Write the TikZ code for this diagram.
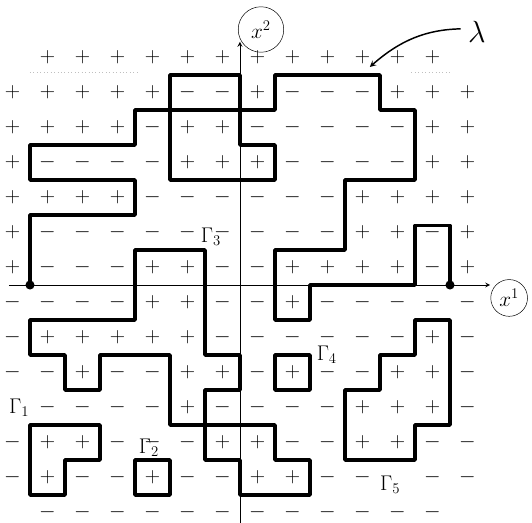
\documentclass[tikz,border=0pt]{standalone}
\usepackage{amsmath,amssymb}
\usepackage{tikz}

\begin{document}
\begin{tikzpicture}[x=1cm,y=1cm,>=stealth,
  spin/.style={font=\LARGE,inner sep=0pt},
  contour/.style={line width=3pt,line cap=round,line join=round},
  axis/.style={line width=0.8pt},
  lab/.style={font=\LARGE,inner sep=0pt},
  axlab/.style={draw,circle,font=\LARGE,inner sep=0pt}]
\useasboundingbox (-6.857,-6.8) rectangle (8.343,8.143);
% spins, row by row from the top
\foreach \row [count=\j] in {
  {o,+,+,+,+,+,+,+,+,+,+,+,+,o},
  {+,+,+,+,+,-,-,+,-,-,-,+,+,+},
  {+,+,+,+,-,+,+,-,-,-,-,-,+,+},
  {+,-,-,-,-,+,+,+,-,-,-,-,+,+},
  {+,+,+,+,-,-,-,-,-,-,+,+,+,+},
  {+,-,-,-,-,-,-,-,-,-,+,+,-,+},
  {+,-,-,-,+,+,-,-,+,+,+,+,-,+},
  {-,-,-,-,+,+,-,-,+,-,-,-,-,-},
  {-,+,+,+,+,+,-,-,-,-,-,-,+,-},
  {-,-,+,-,-,+,+,-,+,-,-,+,+,-},
  {o,-,-,-,-,+,-,-,-,-,+,+,+,-},
  {-,+,+,-,-,-,+,+,-,-,+,+,-,-},
  {-,+,-,-,+,-,-,+,+,-,-,o,-,-},
  {o,-,-,-,-,-,-,-,-,-,-,-,-,o}}{
  \foreach \s [count=\i] in \row {
    \if o\s\else
      \node[spin] (s-\i-\j) at ({\i-7.5},{7.5-\j}) {$\s$};
    \fi
  }
}
% faint box edge
\draw[gray!50,dotted,line width=0.8pt] (-6,6.06) -- (-2.9,6.06);
\draw[gray!50,dotted,line width=0.8pt] (4.9,6.06) -- (6,6.06);
% axes
\coordinate (xl) at (-6.6,0);
\coordinate (xr) at (7.15,0);
\coordinate (yb) at (0,-6.8);
\coordinate (yt) at (0,6.95);
\draw[axis,->] (xl) -- (xr);
\draw[axis,->] (yb) -- (yt);
\node[axlab,minimum size=1.05cm] (x1) at (7.69,-0.37) {$x^1$};
\node[axlab,minimum size=1.3cm] (x2) at (0.6,7.3) {$x^2$};
% lambda
\draw[contour] (-6,0) -- (-6,2) -- (-3,2) -- (-3,3) -- (-6,3) -- (-6,4) -- (-3,4) -- (-3,5)
  -- (-2,5) -- (-2,6) -- (0,6) -- (0,5) -- (1,5) -- (1,6) -- (4,6) -- (4,5) -- (5,5) -- (5,3)
  -- (3,3) -- (3,1) -- (1,1) -- (1,-1) -- (2,-1) -- (2,0) -- (5,0) -- (5,1.7) -- (6,1.7) -- (6,0);
\draw[contour] (-2,5) -- (0,5) -- (0,4) -- (1,4) -- (1,3) -- (-2,3) -- cycle;
\fill (-6,0) circle (0.13);
\fill (6,0) circle (0.13);
% Gamma_1 ... Gamma_5 and the lower island
\draw[contour] (-6,-4) -- (-4,-4) -- (-4,-5) -- (-5,-5) -- (-5,-6) -- (-6,-6) -- cycle;
\draw[contour] (-3,-5) -- (-2,-5) -- (-2,-6) -- (-3,-6) -- cycle;
\draw[contour] (-3,1) -- (-1,1) -- (-1,-2) -- (0,-2) -- (0,-3) -- (-1,-3) -- (-1,-4) -- (-2,-4)
  -- (-2,-2) -- (-4,-2) -- (-4,-3) -- (-5,-3) -- (-5,-2) -- (-6,-2) -- (-6,-1) -- (-3,-1) -- cycle;
\draw[contour] (1,-2) -- (2,-2) -- (2,-3) -- (1,-3) -- cycle;
\draw[contour] (5,-1) -- (6,-1) -- (6,-4) -- (5,-4) -- (5,-5) -- (3,-5) -- (3,-3) -- (4,-3)
  -- (4,-2) -- (5,-2) -- cycle;
\draw[contour] (-1,-4) -- (1,-4) -- (1,-5) -- (2,-5) -- (2,-6) -- (0,-6) -- (0,-5) -- (-1,-5) -- cycle;
% labels
\node[lab] (g1) at (-6.31,-3.51) {$\Gamma_1$};
\node[lab] (g2) at (-2.6,-4.66) {$\Gamma_2$};
\node[lab] (g3) at (-0.83,1.37) {$\Gamma_3$};
\node[lab] (g4) at (2.48,-2.0) {$\Gamma_4$};
\node[lab] (g5) at (4.29,-5.71) {$\Gamma_5$};
\node[lab,font=\Huge] (lam) at (6.77,7.23) {$\lambda$};
\coordinate (lamtip) at (3.71,6.23);
\draw[->,line width=1.2pt,shorten <=6pt] (lam.160) to[bend right=20] (lamtip);
\end{tikzpicture}
\end{document}
